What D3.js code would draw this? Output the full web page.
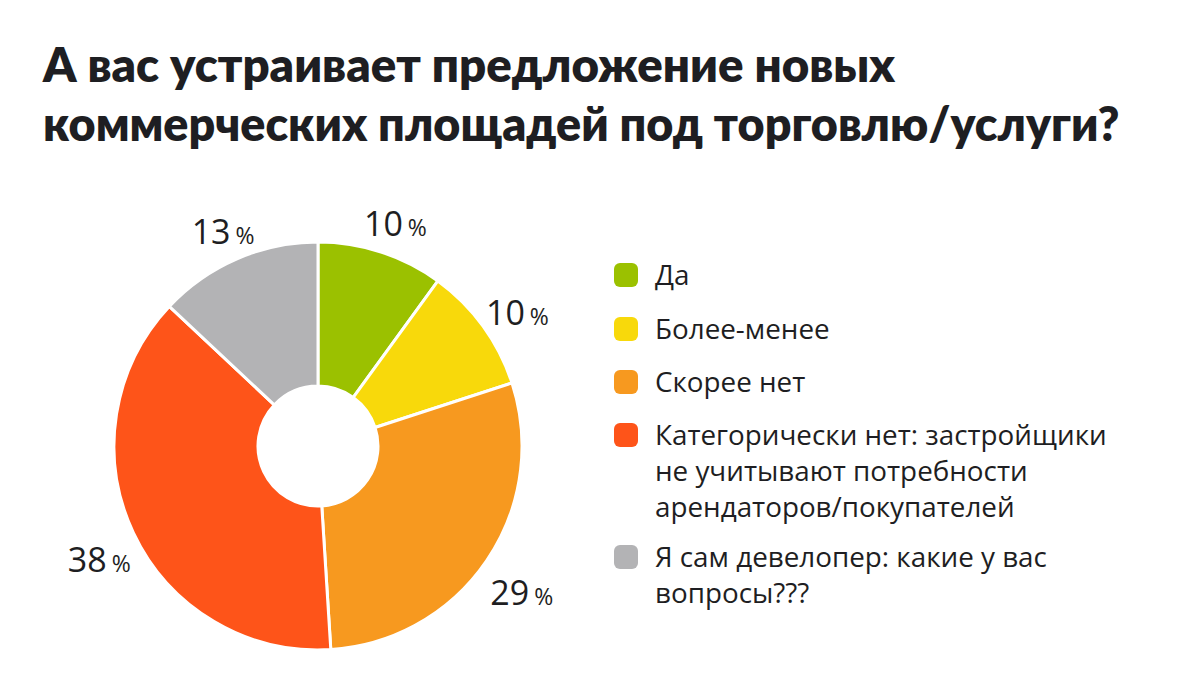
<!DOCTYPE html>
<html><head><meta charset="utf-8">
<script src="https://cdn.jsdelivr.net/npm/d3@7"></script>
<style>body{margin:0;background:#fff}svg{display:block}</style>
</head><body>
<svg id="c" width="1200" height="693"></svg>
<script>
const titleLines = ["А вас устраивает предложение новых", "коммерческих площадей под торговлю/услуги?"];
const categories = ["Да", "Более-менее", "Скорее нет", "Категорически нет: застройщики не учитывают потребности арендаторов/покупателей", "Я сам девелопер: какие у вас вопросы???"];
const legendLines = [["Да"], ["Более-менее"], ["Скорее нет"], ["Категорически нет: застройщики", "не учитывают потребности", "арендаторов/покупателей"], ["Я сам девелопер: какие у вас", "вопросы???"]];
const values = [10, 10, 29, 38, 13];
const colors = ["#9bc100", "#f8d90b", "#f7991f", "#fe5419", "#b3b3b5"];

const svg = d3.select("#c");
const titleFont = "Lato, 'Open Sans', sans-serif";
const font = "'Open Sans', Lato, sans-serif";
const ink = "#1e1e22";

svg.append("g").selectAll("text").data(titleLines).join("text")
  .attr("x", 43).attr("y", (d, i) => 82 + i * 59)
  .attr("font-family", titleFont).attr("font-weight", 800).attr("font-size", (d, i) => i === 0 ? 47.4 : 46.6)
  .attr("fill", ink).text(d => d);

const cx = 318, cy = 446, R = 204, r0 = 60;
const pie = d3.pie().sort(null).value(d => d);
const arcs = pie(values);
const arc = d3.arc().innerRadius(r0).outerRadius(R);
const g = svg.append("g").attr("transform", `translate(${cx},${cy})`);
g.selectAll("path").data(arcs).join("path")
  .attr("d", arc).attr("fill", (d, i) => colors[i])
  .attr("stroke", "#fff").attr("stroke-width", 3).attr("stroke-linejoin", "round");

const labelArc = d3.arc().innerRadius(244).outerRadius(244);
const lab = g.selectAll("text.lab").data(arcs).join("text").attr("class", "lab")
  .attr("transform", d => { const [x, y] = labelArc.centroid(d); return `translate(${x + 2},${y + 22})`; })
  .attr("text-anchor", "middle").attr("font-family", font).attr("fill", ink);
lab.append("tspan").attr("font-size", 34).text(d => d.data);
lab.append("tspan").attr("font-size", 23).attr("dx", 5).text("%");

const legendY = [275, 329, 382, 435, 557];
const lg = svg.append("g").selectAll("g").data(categories).join("g")
  .attr("transform", (d, i) => `translate(614,${legendY[i]})`);
lg.append("rect").attr("x", 0).attr("y", -12).attr("width", 24).attr("height", 24).attr("rx", 6)
  .attr("fill", (d, i) => colors[i]);
lg.append("text").attr("font-family", font).attr("font-size", 27.8).attr("fill", ink)
  .selectAll("tspan").data((d, i) => legendLines[i]).join("tspan")
  .attr("x", 41).attr("y", (d, j) => 10 + j * 36).text(d => d);
</script>
</body></html>
